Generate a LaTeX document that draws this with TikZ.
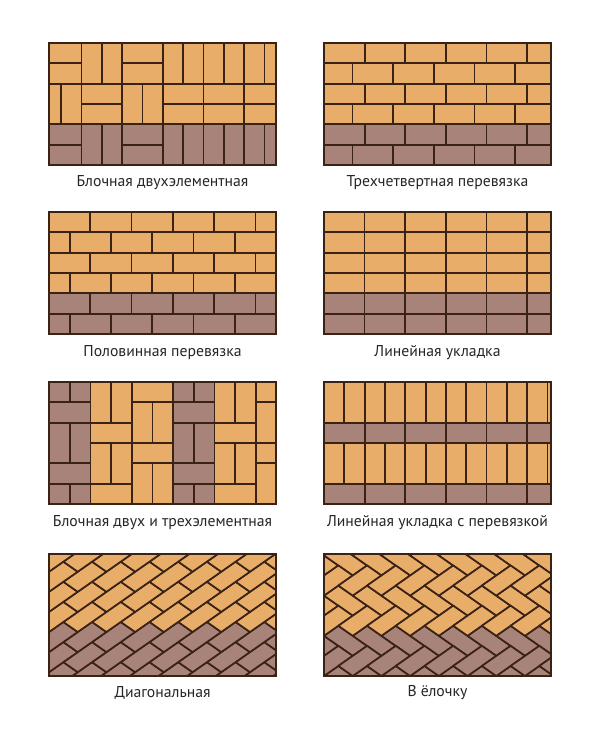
\documentclass[tikz,border=0pt]{standalone}
\usepackage{fontspec}
\setmainfont{PT Sans}

\definecolor{tanbrick}{HTML}{E9AD6A}
\definecolor{purplebrick}{HTML}{A88379}
\definecolor{joint}{HTML}{3A2214}

\tikzset{
  tile/.style={draw=joint,line width=1.7pt,line join=round},
  frame/.style={draw=joint,line width=1.1pt},
  caption/.style={font=\fontsize{15.7}{18}\selectfont,text=black!85}
}

\begin{document}
\begin{tikzpicture}[x=1pt,y=-1pt]
  \path[use as bounding box,fill=white] (0,0) rectangle (610,742);

  % block pattern, two bricks per block
  \begin{scope}[shift={(49,43)}]
    \clip (0,0) rectangle (227,122);
    \begin{scope}[x=20.33pt,y=-20.33pt]
      \foreach \r/\kinds in {0/{H,V,H,V,V,V},1/{V,H,V,H,H,H},2/{H,V,H,V,V,V}}{
        \ifnum\r=2 \def\fc{purplebrick}\else\def\fc{tanbrick}\fi
        \foreach \kd [count=\c from 0] in \kinds {
          \pgfmathsetmacro\bx{-0.4+2*\c}
          \pgfmathsetmacro\by{2*\r}
          \if\kd H
            \draw[tile,fill=\fc] (\bx,\by) rectangle ++(2,1);
            \draw[tile,fill=\fc] (\bx,\by+1) rectangle ++(2,1);
          \else
            \draw[tile,fill=\fc] (\bx,\by) rectangle ++(1,2);
            \draw[tile,fill=\fc] (\bx+1,\by) rectangle ++(1,2);
          \fi
        }
      }
    \end{scope}
  \end{scope}

  % three-quarter bond
  \begin{scope}[shift={(324,43)}]
    \clip (0,0) rectangle (227,122);
    \begin{scope}[x=20.33pt,y=-20.33pt]
      \foreach \r in {0,...,5}{
        \ifnum\r>3 \def\fc{purplebrick}\else\def\fc{tanbrick}\fi
        \pgfmathsetmacro\off{ifthenelse(mod(\r,2)==0,0,-0.6)}
        \foreach \c in {0,...,6}
          \draw[tile,fill=\fc] (\off+2*\c,\r) rectangle ++(2,1);
      }
    \end{scope}
  \end{scope}

  % half bond
  \begin{scope}[shift={(49,212)}]
    \clip (0,0) rectangle (227,122);
    \begin{scope}[x=20.65pt,y=-20.33pt]
      \foreach \r in {0,...,5}{
        \ifnum\r>3 \def\fc{purplebrick}\else\def\fc{tanbrick}\fi
        \pgfmathsetmacro\off{ifthenelse(mod(\r,2)==0,0,-1)}
        \foreach \c in {0,...,6}
          \draw[tile,fill=\fc] (\off+2*\c,\r) rectangle ++(2,1);
      }
    \end{scope}
  \end{scope}

  % stack bond
  \begin{scope}[shift={(324,212)}]
    \clip (0,0) rectangle (227,122);
    \begin{scope}[x=20.3pt,y=-20.33pt]
      \foreach \r in {0,...,5}{
        \ifnum\r>3 \def\fc{purplebrick}\else\def\fc{tanbrick}\fi
        \foreach \c in {0,...,5}
          \draw[tile,fill=\fc] (2*\c,\r) rectangle ++(2,1);
      }
    \end{scope}
  \end{scope}

  % blocks of two and three bricks
  \begin{scope}[shift={(49,382)}]
    \clip (0,0) rectangle (227,122);
    \begin{scope}[x=20.7pt,y=-20.33pt]
      \foreach \k/\ph/\fc in {0/1/purplebrick,1/2/tanbrick,2/0/tanbrick,
                               3/1/purplebrick,4/2/tanbrick,5/0/tanbrick}{
        \foreach \j in {-1,...,2}{
          \pgfmathsetmacro\hy{\ph+3*\j}
          \draw[tile,fill=\fc] (2*\k,\hy) rectangle ++(2,1);
          \draw[tile,fill=\fc] (2*\k,\hy+1) rectangle ++(1,2);
          \draw[tile,fill=\fc] (2*\k+1,\hy+1) rectangle ++(1,2);
        }
      }
    \end{scope}
  \end{scope}

  % stack bond with soldier rows
  \begin{scope}[shift={(324,382)}]
    \clip (0,0) rectangle (227,122);
    \begin{scope}[x=20.33pt,y=-20.33pt]
      \foreach \y in {0,3}{
        \foreach \c in {0,...,11}
          \draw[tile,fill=tanbrick] (\c,\y) rectangle ++(1,2);
        \foreach \c in {0,...,5}
          \draw[tile,fill=purplebrick] (2*\c,\y+2) rectangle ++(2,1);
      }
    \end{scope}
  \end{scope}

  % diagonal running bond
  \begin{scope}[shift={(49,676)}]
    \clip (0,0) rectangle (227,-122);
    \begin{scope}[yshift=3.8pt,yscale=0.7,rotate=45,x=20.3pt,y=20.3pt]
      \foreach \j in {-11,...,8}{
        \foreach \i in {-2,...,9}{
          \pgfmathsetmacro\lx{2*\i+mod(\j+20,2)}
          \pgfmathsetmacro\hgt{10.05*(\lx+\j+1.5)}
          \ifdim\hgt pt<50pt \def\fc{purplebrick}\else\def\fc{tanbrick}\fi
          \draw[tile,fill=\fc] (\lx,\j) rectangle ++(2,1);
        }
      }
    \end{scope}
  \end{scope}

  % herringbone
  \begin{scope}[shift={(324,676)}]
    \clip (0,0) rectangle (227,-122);
    \begin{scope}[yscale=0.7,rotate=-45,x=20.3pt,y=20.3pt]
      \foreach \m in {-4,...,1}{
        \foreach \k in {-3,...,9}{
          \pgfmathsetmacro\hgt{10.05*(-0.5-4*\m)}
          \ifdim\hgt pt<45pt \def\fc{purplebrick}\else\def\fc{tanbrick}\fi
          \draw[tile,fill=\fc] (\k+2*\m,\k-2*\m) rectangle ++(2,1);
          \pgfmathsetmacro\hgt{10.05*(1.5-4*\m)}
          \ifdim\hgt pt<45pt \def\fc{purplebrick}\else\def\fc{tanbrick}\fi
          \draw[tile,fill=\fc] (\k-1+2*\m,\k-2*\m) rectangle ++(1,2);
        }
      }
    \end{scope}
  \end{scope}

  % frames
  \foreach \px/\py in {49/43,324/43,49/212,324/212,49/382,324/382,49/554,324/554}
    \draw[frame] (\px,\py) rectangle ++(227,122);

  % captions
  \node[caption] (capblock)   at (162.5,183) {Блочная двухэлементная};
  \node[caption] (capthree)   at (437.5,183) {Трехчетвертная перевязка};
  \node[caption] (caphalf)    at (162.5,353) {Половинная перевязка};
  \node[caption] (caplinear)  at (437.5,353) {Линейная укладка};
  \node[caption] (capmixed)   at (162.5,523) {Блочная двух и трехэлементная};
  \node[caption] (caplinbond) at (437.5,523) {Линейная укладка с перевязкой};
  \node[caption] (capdiag)    at (162.5,693) {Диагональная};
  \node[caption] (capherring) at (437.5,693) {В ёлочку};
\end{tikzpicture}
\end{document}
